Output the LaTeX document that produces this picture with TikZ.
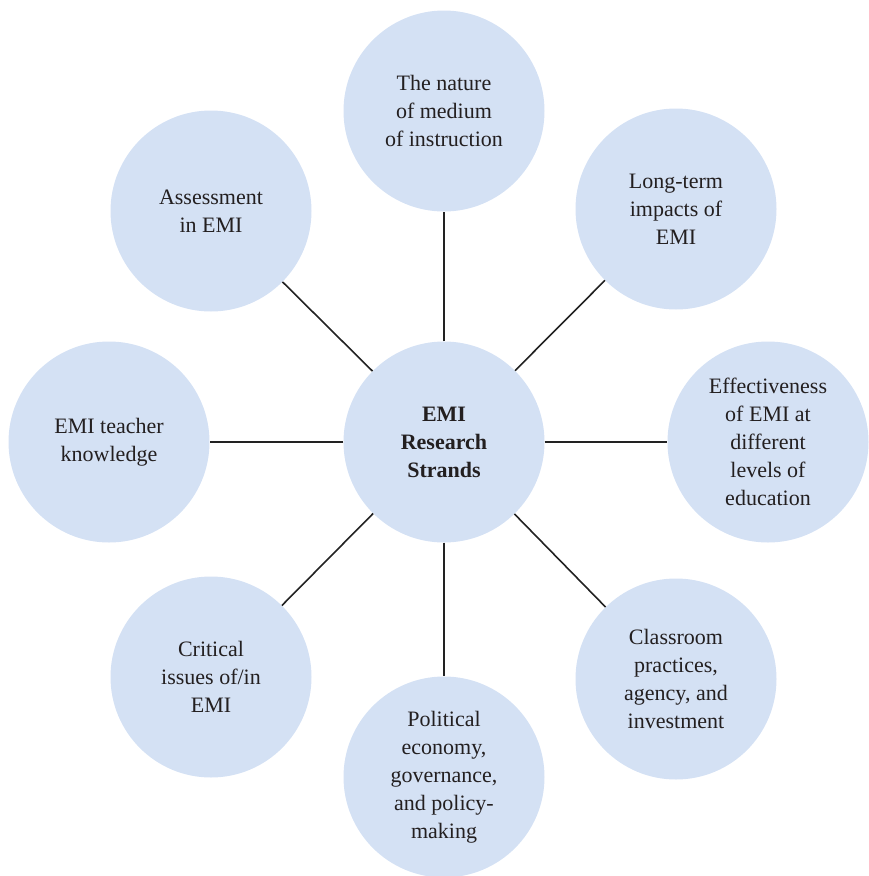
\documentclass[tikz,border=0pt]{standalone}
\usepackage{fontspec}
\setmainfont{Liberation Serif}
\usepackage{tikz}
\usetikzlibrary{positioning}
\usepackage{xcolor}
\definecolor{strandblue}{HTML}{D4E1F4}
\definecolor{textgray}{HTML}{231F20}
\definecolor{linegray}{HTML}{222222}
\newcommand\strandfont{\fontsize{22}{28}\selectfont}

\begin{document}
\begin{tikzpicture}[x=1pt,y=-1pt,
strand/.style={circle,fill=strandblue,text=textgray,align=center,minimum size=201pt,inner sep=0pt,font=\strandfont},
link/.style={draw=linegray,line width=1.6pt}]
\useasboundingbox (0,0) rectangle (868,876);
\node[strand,font=\strandfont\bfseries] (hub) at (444,442) {EMI\\Research\\Strands};
\node[strand] (nat) at (444,111) {The nature\\of medium\\of instruction};
\node[strand] (imp) at (676,209) {Long-term\\impacts of\\EMI};
\node[strand] (eff) at (768,442) {Effectiveness\\of EMI at\\different\\levels of\\education};
\node[strand] (cls) at (676,679) {Classroom\\practices,\\agency, and\\investment};
\node[strand] (pol) at (444,777) {Political\\economy,\\governance,\\and policy-\\making};
\node[strand] (crit) at (211,677) {Critical\\issues of/in\\EMI};
\node[strand] (tk) at (109,442) {EMI teacher\\knowledge};
\node[strand] (asm) at (211,211) {Assessment\\in EMI};
\foreach \n in {nat,imp,eff,cls,pol,crit,tk,asm} \draw[link] (hub)--(\n);
\end{tikzpicture}
\end{document}
